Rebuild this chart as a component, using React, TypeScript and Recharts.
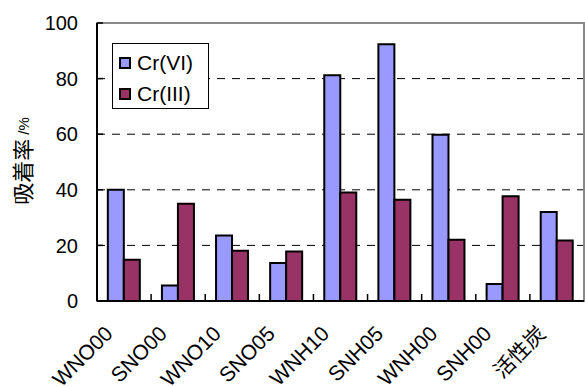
import { BarChart, Bar, XAxis, YAxis, CartesianGrid, ReferenceArea, Legend } from "recharts"

const samples = ["WNO00", "SNO00", "WNO10", "SNO05", "WNH10", "SNH05", "WNH00", "SNH00", "活性炭"]
const cr6 = [40, 5.6, 23.6, 13.7, 81.2, 92.4, 59.8, 6.1, 32]
const cr3 = [14.8, 35, 18.1, 17.8, 39, 36.4, 22, 37.7, 21.8]
const yTicks = [0, 20, 40, 60, 80, 100]
const gridLevels = [20, 40, 60, 80]

const seriesKeys = ["cr6", "cr3"] as const
const seriesNames = { cr6: "Cr(VI)", cr3: "Cr(III)" }
const colors = { cr6: "#9999FF", cr3: "#993366" }

const data = samples.map((name, i) => ({ name, cr6: cr6[i], cr3: cr3[i] }))

const FONT = "'Liberation Sans', Arial, 'Noto Sans CJK JP', sans-serif"

// category tick: short upward mark on the left band edge + rotated label
function CategoryTick(props: any) {
  const { x, y, payload } = props
  const edge = x - (payload.offset ?? 27)
  const lx = x - 10
  const ly = y + 34
  return (
    <g>
      <line x1={edge} y1={y} x2={edge} y2={y - 7} stroke="#000" strokeWidth={1.5} />
      <text
        x={lx}
        y={ly}
        transform={`rotate(-45 ${lx} ${ly})`}
        textAnchor="end"
        fontSize={21}
        fontFamily={FONT}
        fill="#000"
      >
        {payload.value}
      </text>
    </g>
  )
}

function YTitle() {
  return (
    <text
      x={23}
      y={161}
      transform="rotate(-90 23 161)"
      textAnchor="middle"
      dominantBaseline="central"
      fontFamily={FONT}
      fill="#000"
    >
      <tspan fontSize={22}>吸着率</tspan>
      <tspan fontSize={15}> /%</tspan>
    </text>
  )
}

// legend drawn in series order (Cr(VI) first)
function LegendBox() {
  return (
    <div
      style={{
        border: "1px solid #000",
        background: "#fff",
        width: 97,
        height: 66,
        boxSizing: "border-box",
        padding: "3px 0 0 6px",
        fontFamily: FONT,
        fontSize: 21,
        lineHeight: "31px",
      }}
    >
      {seriesKeys.map((k) => (
        <div key={k} style={{ display: "flex", alignItems: "center", height: 31 }}>
          <span
            style={{
              display: "inline-block",
              width: 12,
              height: 12,
              background: colors[k],
              border: "2px solid #000",
              boxSizing: "border-box",
              marginRight: 6,
            }}
          />
          <span>{seriesNames[k]}</span>
        </div>
      ))}
    </div>
  )
}

export default function App() {
  return (
    <div style={{ position: "absolute", left: 0, top: 0, background: "#fff" }}>
      <BarChart
        width={585}
        height={387}
        data={data}
        margin={{ top: 23, right: 1, left: 0, bottom: 0 }}
        barCategoryGap="20%"
        barGap={0}
      >
        <ReferenceArea y1={0} y2={100} fill="none" stroke="#888" strokeWidth={2} />
        <CartesianGrid vertical={false} horizontalValues={gridLevels} stroke="#000" strokeDasharray="8 7" />
        <XAxis
          dataKey="name"
          interval={0}
          height={86}
          tickSize={0}
          tickMargin={0}
          tickLine={false}
          axisLine={{ stroke: "#000", strokeWidth: 2 }}
          tick={<CategoryTick />}
        />
        <YAxis
          domain={[0, 100]}
          ticks={yTicks}
          width={97}
          tickSize={-6}
          tickMargin={25}
          tickLine={{ stroke: "#000", strokeWidth: 1.5 }}
          axisLine={{ stroke: "#000", strokeWidth: 2 }}
          tick={{ fill: "#000", fontSize: 20, fontFamily: FONT }}
          label={<YTitle />}
        />
        <Legend
          layout="vertical"
          align="center"
          verticalAlign="middle"
          wrapperStyle={{ left: 112, top: 43, width: 97, height: 66 }}
          content={<LegendBox />}
        />
        {seriesKeys.map((k) => (
          <Bar
            key={k}
            dataKey={k}
            name={seriesNames[k]}
            fill={colors[k]}
            stroke="#000"
            strokeWidth={2}
            isAnimationActive={false}
          />
        ))}
      </BarChart>
    </div>
  )
}
